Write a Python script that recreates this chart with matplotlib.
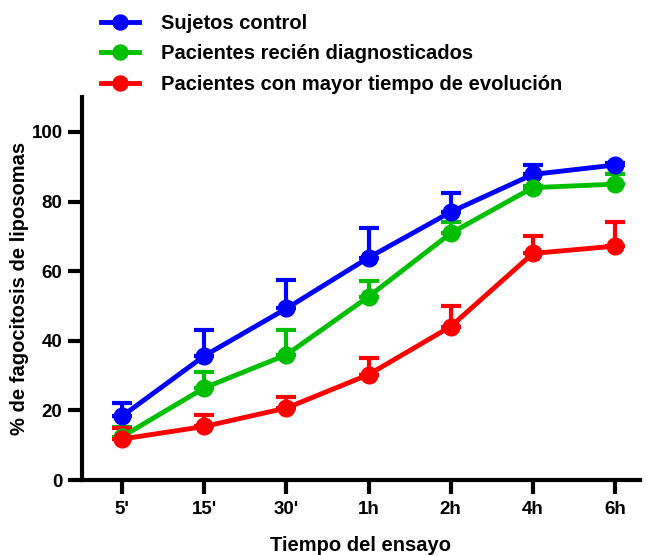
import numpy as np
import matplotlib
matplotlib.use("Agg")
import matplotlib.pyplot as plt

plt.rcParams['font.family'] = ['Liberation Sans', 'DejaVu Sans']
plt.rcParams['font.weight'] = 'bold'

tiempos = ["5'", "15'", "30'", "1h", "2h", "4h", "6h"]

control = [18.4, 35.7, 49.3, 63.9, 77.0, 87.8, 90.5]
control_err = [3.8, 7.4, 8.3, 8.4, 5.4, 2.6, 0.5]

recien = [12.5, 26.5, 36.0, 52.7, 70.9, 84.0, 85.0]
recien_err = [2.8, 4.6, 7.2, 4.6, 3.3, 0.5, 3.0]

evolucion = [11.8, 15.4, 20.7, 30.3, 44.1, 65.1, 67.2]
evolucion_err = [3.2, 3.3, 3.3, 4.8, 5.9, 5.0, 6.8]

series = [
    ("Sujetos control", control, control_err, "#0000ff"),
    ("Pacientes recién diagnosticados", recien, recien_err, "#00bf00"),
    ("Pacientes con mayor tiempo de evolución", evolucion, evolucion_err, "#ff0000"),
]

fig = plt.figure(figsize=(6.46, 5.55), dpi=100)
ax = fig.add_axes([0.127, 0.135, 0.863, 0.69])

x = np.arange(len(tiempos))
handles = []
for nombre, vals, err, col in series:
    # solo barra de error superior
    ax.errorbar(x, vals, yerr=[np.zeros(len(err)), err], fmt='none',
                ecolor=col, elinewidth=3, capsize=7, capthick=3, zorder=2)
    h, = ax.plot(x, vals, color=col, lw=3.5, marker='o', markersize=12,
                 label=nombre, zorder=3)
    handles.append(h)

ax.set_xlim(-0.49, 6.3)
ax.set_ylim(0, 110)
ax.set_yticks([0, 20, 40, 60, 80, 100])
ax.set_xticks(x)
ax.set_xticklabels(tiempos)
ax.tick_params(axis='both', width=3, length=10, labelsize=13.5, pad=4)
ax.tick_params(axis='x', pad=5)
for s in ['top', 'right']:
    ax.spines[s].set_visible(False)
for s in ['left', 'bottom']:
    ax.spines[s].set_linewidth(3)

ax.set_xlabel("Tiempo del ensayo", fontsize=14.5, fontweight='bold', labelpad=13)
ax.set_ylabel("% de fagocitosis de liposomas", fontsize=14.5, fontweight='bold', labelpad=2)

fig.legend(handles=handles, loc='upper left', bbox_to_anchor=(0.128, 1.008),
           frameon=False, fontsize=14.5, handlelength=1.9, handletextpad=1.1,
           labelspacing=0.58, markerscale=0.9)

fig.savefig("out.png", dpi=100)
